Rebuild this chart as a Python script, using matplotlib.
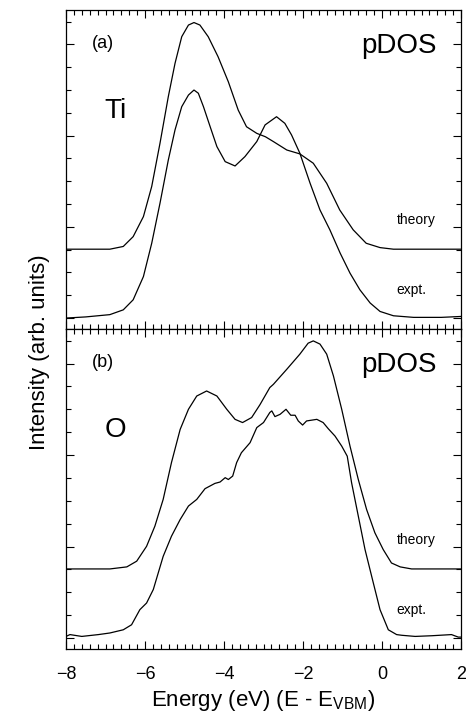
import matplotlib
matplotlib.use("Agg")
import matplotlib.pyplot as plt
from matplotlib.ticker import MultipleLocator, NullFormatter

plt.rcParams['font.family'] = ['Liberation Sans', 'DejaVu Sans']

# ---- data (energy in eV, intensity in arb. units) ----
ti_theory_x = [-8.0, -6.89, -6.55, -6.30, -6.04, -5.83, -5.62, -5.41, -5.24, -5.07, -4.90, -4.76,
               -4.61, -4.40, -4.15, -3.89, -3.64, -3.43, -3.17, -2.95, -2.75, -2.41, -2.08,
               -1.74, -1.40, -1.07, -0.73, -0.40, -0.05, 0.29, 2.0]
ti_theory_y = [3.02, 3.02, 3.14, 3.57, 4.45, 5.77, 7.67, 9.71, 11.17, 12.34, 12.85, 12.96,
               12.85, 12.34, 11.46, 10.36, 9.12, 8.39, 8.10, 7.95, 7.74, 7.37, 7.20,
               6.79, 5.91, 4.74, 3.87, 3.28, 3.09, 3.02, 3.02]

ti_expt_x = [-8.0, -7.5, -6.89, -6.55, -6.30, -6.04, -5.83, -5.62, -5.41, -5.24, -5.07, -4.90,
             -4.76, -4.65, -4.52, -4.35, -4.18, -3.97, -3.72, -3.47, -3.17, -2.96, -2.67,
             -2.46, -2.29, -2.08, -1.82, -1.57, -1.32, -1.06, -0.81, -0.56, -0.30, -0.05,
             0.29, 0.8, 1.5, 2.0]
ti_expt_y = [0.0, 0.05, 0.15, 0.36, 0.80, 1.82, 3.28, 5.04, 6.93, 8.25, 9.27, 9.78,
             10.0, 9.86, 9.27, 8.39, 7.52, 6.86, 6.67, 7.08, 7.74, 8.47, 8.83,
             8.54, 8.03, 7.23, 5.91, 4.74, 3.87, 2.85, 1.97, 1.24, 0.66, 0.29,
             0.10, 0.03, 0.03, 0.07]

o_theory_x = [-8.0, -6.89, -6.46, -6.21, -5.96, -5.75, -5.54, -5.33, -5.11, -4.90, -4.69, -4.44,
              -4.18, -3.93, -3.72, -3.53, -3.30, -3.09, -2.84, -2.75, -2.41, -2.08, -1.87,
              -1.74, -1.57, -1.40, -1.23, -1.02, -0.81, -0.60, -0.39, -0.18, 0.03, 0.24,
              0.46, 0.75, 2.0]
o_theory_y = [3.02, 3.02, 3.11, 3.36, 4.01, 4.89, 6.06, 7.67, 9.12, 10.0, 10.58, 10.80,
              10.58, 10.0, 9.56, 9.42, 9.64, 10.2, 10.95, 11.09, 11.75, 12.41, 12.89,
              12.99, 12.85, 12.41, 11.46, 10.0, 8.39, 6.93, 5.62, 4.60, 3.87, 3.28,
              3.11, 3.02, 3.02]

o_expt_x = [-8.0, -7.9, -7.6, -7.18, -6.89, -6.55, -6.34, -6.13, -5.96, -5.79, -5.54, -5.33,
            -5.11, -4.90, -4.69, -4.48, -4.23, -4.10, -3.97, -3.89, -3.78, -3.68, -3.56,
            -3.34, -3.17, -3.00, -2.84, -2.79, -2.71, -2.58, -2.43, -2.31, -2.20, -2.12,
            -2.01, -1.91, -1.65, -1.49, -1.36, -1.19, -1.02, -0.88, -0.77, -0.60, -0.43,
            -0.22, -0.05, 0.16, 0.37, 0.50, 0.84, 1.26, 1.76, 1.93, 2.0]
o_expt_y = [0.07, 0.15, 0.07, 0.15, 0.22, 0.36, 0.58, 1.24, 1.53, 2.12, 3.57, 4.45,
            5.18, 5.77, 6.06, 6.53, 6.76, 6.82, 7.01, 6.93, 7.08, 7.67, 8.10,
            8.54, 9.20, 9.42, 9.86, 9.93, 9.68, 9.78, 10.0, 9.74, 9.74, 9.49,
            9.31, 9.49, 9.56, 9.42, 9.15, 8.83, 8.39, 7.95, 6.79, 5.33, 3.87,
            2.41, 1.24, 0.36, 0.15, 0.12, 0.07, 0.10, 0.15, 0.04, 0.04]

panels = [
    ("(a)", "Ti", ti_theory_x, ti_theory_y, ti_expt_x, ti_expt_y),
    ("(b)", "O", o_theory_x, o_theory_y, o_expt_x, o_expt_y),
]

fig = plt.figure(figsize=(4.66, 7.25), dpi=100)
L, R = 66 / 466, 461 / 466
rects = [(L, 1 - 329 / 725, R - L, (329 - 10) / 725),
         (L, 1 - 649 / 725, R - L, (649 - 329) / 725)]

for rect, (lab, elem, tx, ty, ex, ey) in zip(rects, panels):
    ax = fig.add_axes(rect)
    ax.plot(tx, ty, color='black', lw=0.9, solid_joinstyle='round')
    ax.plot(ex, ey, color='black', lw=0.9, solid_joinstyle='round')
    ax.set_xlim(-8, 2)
    ax.set_ylim(-0.48, 13.51)
    ax.xaxis.set_major_locator(MultipleLocator(2))
    ax.xaxis.set_minor_locator(MultipleLocator(0.2))
    ax.yaxis.set_major_locator(MultipleLocator(4))
    ax.yaxis.set_minor_locator(MultipleLocator(1))
    ax.tick_params(which='both', direction='in', top=True, right=True, width=0.8)
    ax.tick_params(which='major', length=6)
    ax.tick_params(which='minor', length=3.5)
    ax.yaxis.set_major_formatter(NullFormatter())
    for s in ax.spines.values():
        s.set_linewidth(0.9)
    ax.text(-7.35, 12.05, lab, fontsize=13, ha='left', va='center')
    ax.text(1.38, 11.95, "pDOS", fontsize=20, ha='right', va='center')
    ax.text(-7.03, 9.1, elem, fontsize=20, ha='left', va='center')
    ax.text(0.37, 4.28, "theory", fontsize=10, ha='left', va='center')
    ax.text(0.37, 1.24, "expt.", fontsize=10, ha='left', va='center')
    if lab == "(a)":
        ax.xaxis.set_major_formatter(NullFormatter())
    else:
        ax.tick_params(axis='x', which='major', labelsize=13, pad=12)
        ax.set_xlabel(r"Energy (eV) (E - E$_{\mathregular{VBM}}$)", fontsize=16, labelpad=4)

fig.text(40 / 466, 1 - 352 / 725, "Intensity (arb. units)", rotation=90, fontsize=16,
         ha='center', va='center')

fig.savefig("out.png", dpi=100)
